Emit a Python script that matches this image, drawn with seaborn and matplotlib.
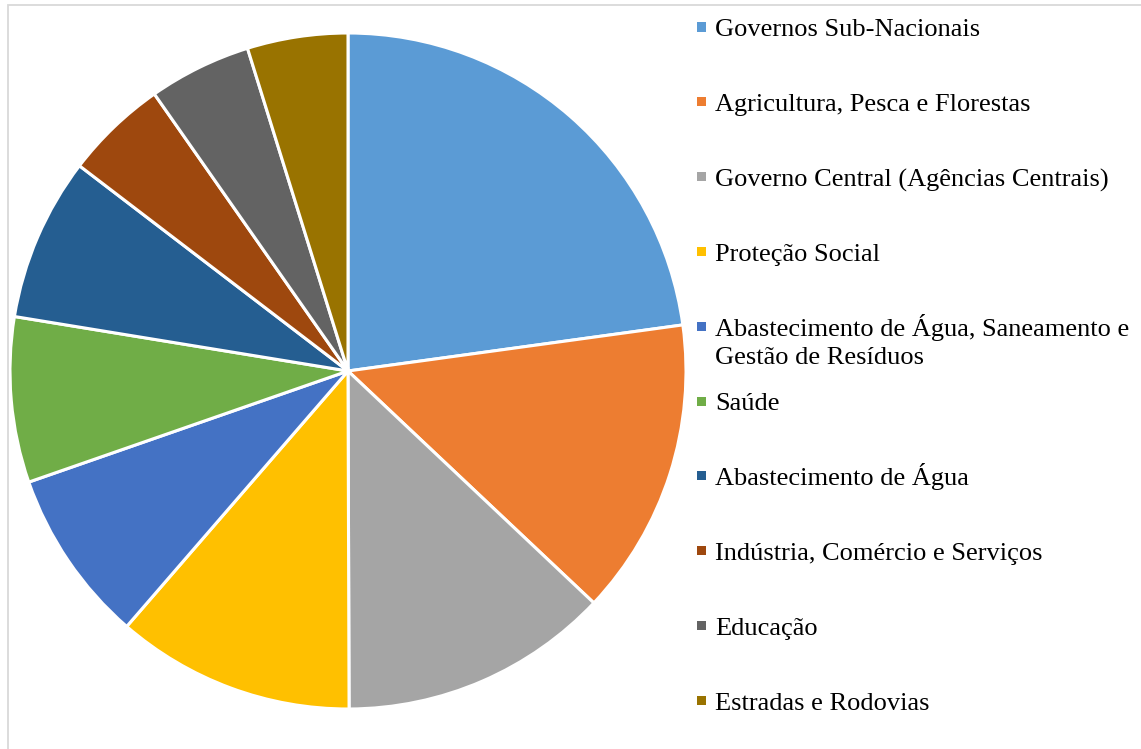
import matplotlib.pyplot as plt
import matplotlib.patches as mpatches
import seaborn as sns

# slice shares (%), read clockwise from 12 o'clock
categories = [
    'Governos Sub-Nacionais',
    'Agricultura, Pesca e Florestas',
    'Governo Central (Agências Centrais)',
    'Proteção Social',
    'Abastecimento de Água, Saneamento e\nGestão de Resíduos',
    'Saúde',
    'Abastecimento de Água',
    'Indústria, Comércio e Serviços',
    'Educação',
    'Estradas e Rodovias',
]
shares = [22.8, 14.2, 12.9, 11.4, 8.3, 7.9, 7.8, 4.9, 4.9, 4.8]
colors = ['#5B9BD5', '#ED7D31', '#A5A5A5', '#FFC000', '#4472C4',
          '#70AD47', '#255E91', '#9E480E', '#636363', '#997300']

sns.set_theme(style='white')
plt.rcParams['font.family'] = ['Liberation Serif', 'DejaVu Serif']

W, H = 1141, 749
fig = plt.figure(figsize=(W / 100, H / 100), dpi=100)

# pie axes: center (348, 371), radius 338 px
cx, cy, r = 348, 371, 338
ax = fig.add_axes([(cx - r) / W, (H - cy - r) / H, 2 * r / W, 2 * r / H])
ax.pie(shares, colors=colors, startangle=90, counterclock=False,
       radius=1.0, wedgeprops=dict(edgecolor='white', linewidth=2.2))
ax.set_xlim(-1, 1)
ax.set_ylim(-1, 1)
ax.set_aspect('equal')
ax.axis('off')

# chart area border (only left and top visible in the crop)
border = mpatches.Rectangle((8 / W, -0.1), 1.2, (H - 5) / H + 0.1,
                            transform=fig.transFigure, fill=False,
                            edgecolor='#D9D9D9', linewidth=1.3)
fig.add_artist(border)

# legend: Excel-style, one entry per fixed slot, wrapped text hangs below
first_base, step, line_h = 36.5, 74.8, 28
for i, (lab, col) in enumerate(zip(categories, colors)):
    base = first_base + i * step
    for j, line in enumerate(lab.split('\n')):
        fig.text(715 / W, 1 - (base + j * line_h) / H, line, fontsize=19,
                 color='#000000', ha='left', va='baseline')
    sq = mpatches.Rectangle((697 / W, 1 - (base - 5) / H), 9 / W, 9 / H,
                            transform=fig.transFigure, facecolor=col,
                            edgecolor='none')
    fig.add_artist(sq)

fig.savefig('out.png', dpi=100)
